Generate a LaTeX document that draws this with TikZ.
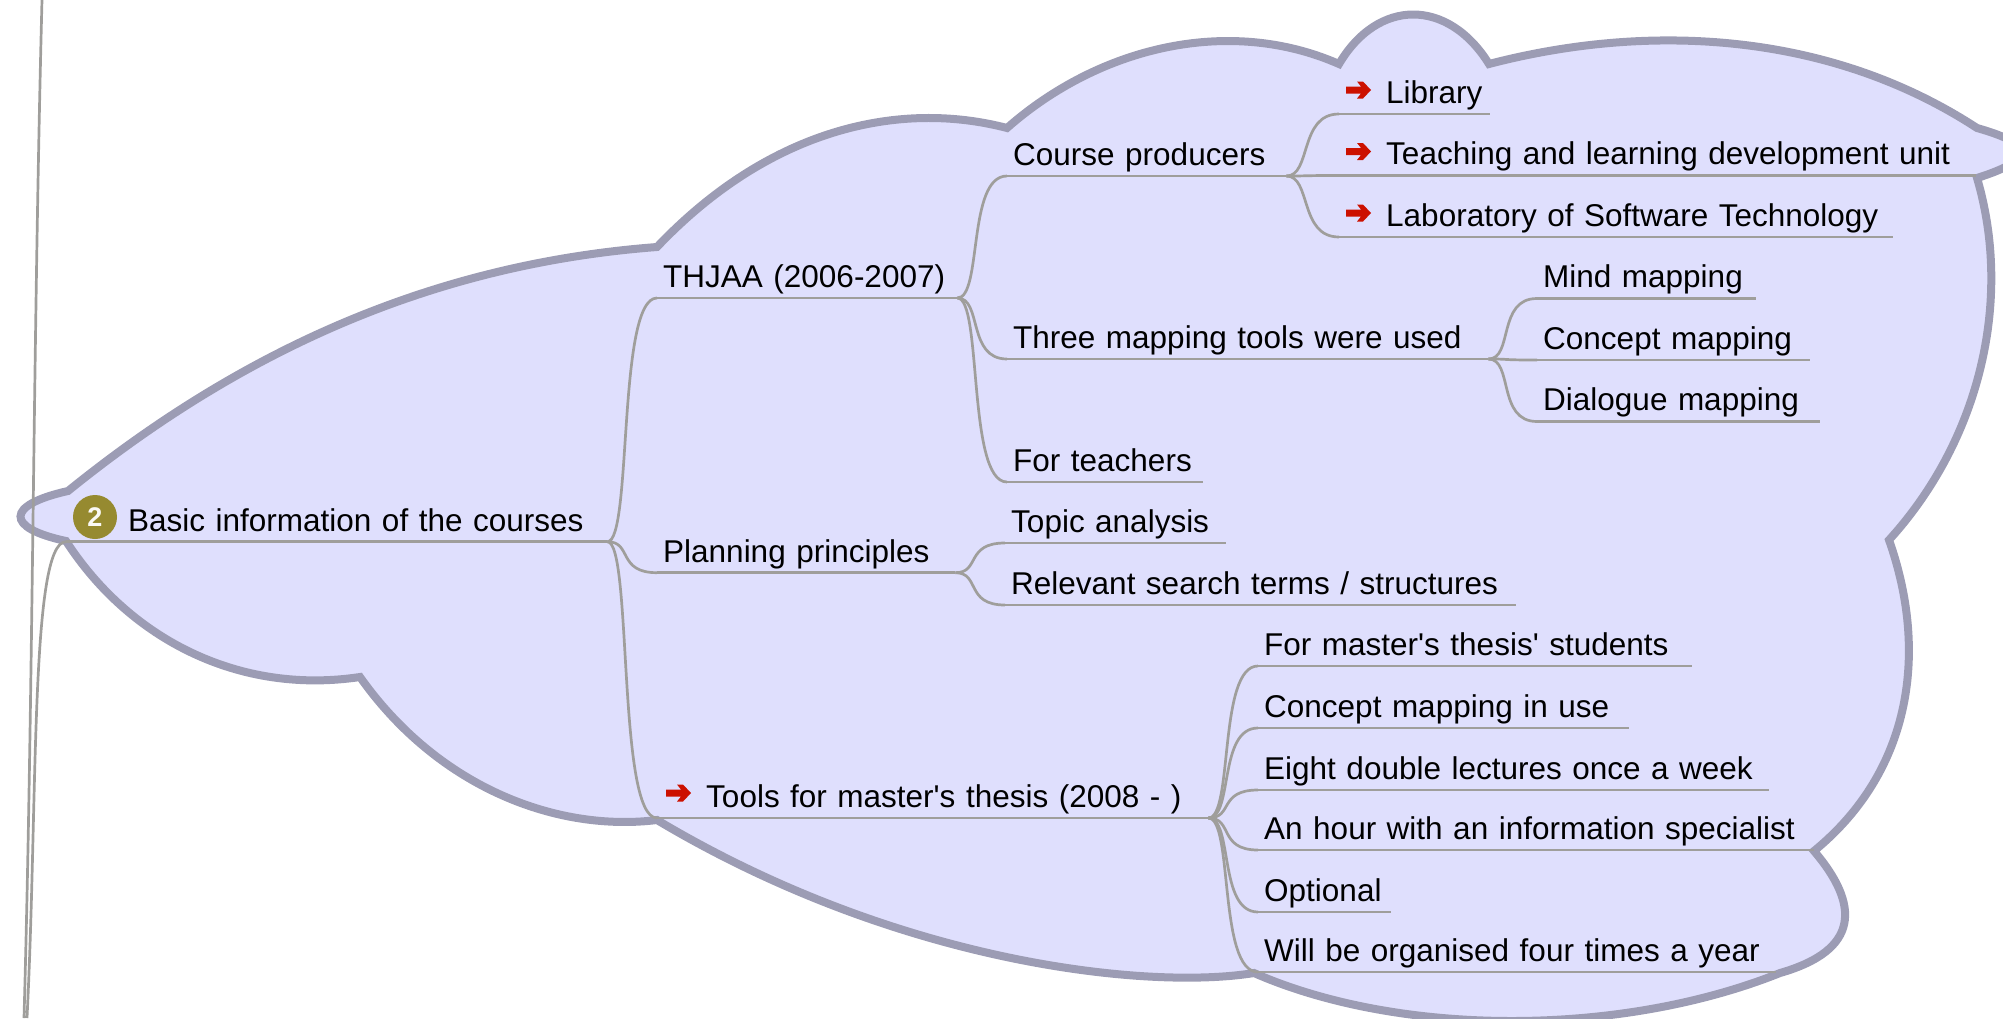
\documentclass[tikz,border=0pt]{standalone}
\usepackage{fontspec}
\setmainfont{Liberation Sans}
\usetikzlibrary{calc,positioning}
\definecolor{cloudfill}{HTML}{DFDFFD}
\definecolor{clouddraw}{HTML}{9C9CB4}
\definecolor{linegray}{HTML}{9F9E9B}
\definecolor{iconred}{HTML}{CC1100}
\definecolor{iconolive}{HTML}{968A30}
\tikzset{
  cloud line/.style={
    draw=clouddraw,
    fill=cloudfill,
    line width=8pt,
    line join=miter
  },
  branch line/.style={
    draw=linegray,
    line width=2.7pt
  },
  branch/.style={
    out=0,
    in=180,
    out distance=25pt,
    in distance=40pt
  },
  indent/.style={
    execute at begin node=\hspace{#1pt}
  },
  topic/.style={
    anchor=south west,
    align=left,
    text width={#1pt-12pt},
    inner xsep=6pt,
    inner ysep=5.5pt,
    text height=23pt,
    text depth=5pt,
    font=\fontsize{31.5}{37}\selectfont,
    append after command={
      (\tikzlastnode.south west) edge[branch line] (\tikzlastnode.south east)
    }
  },
  badge/.style={
    circle,
    fill=iconolive,
    minimum size=44pt,
    inner sep=0pt,
    text=white!95!iconolive,
    font=\fontsize{27}{27}\selectfont\bfseries
  },
  red arrow/.pic={
    \fill[iconred] (0,-3.5) -- (15,-3.5) -- (11,-8.5) -- (17,-8.5) -- (25,0)
      -- (17,8.5) -- (11,8.5) -- (15,3.5) -- (0,3.5) -- cycle;
  }
}
\begin{document}
\begin{tikzpicture}[x=1pt,y=-1pt]
 \useasboundingbox (0,0) rectangle (2003,1018);
 \clip (0,0) rectangle (2003,1018);
 \draw[cloud line] (68,491)
  .. controls (230,360) and (420,265) .. (657,247)
  .. controls (770,128) and (900,100) .. (1007,128)
  .. controls (1100,46) and (1230,16) .. (1339,64)
  .. controls (1378,-2) and (1448,-2) .. (1489,64)
  .. controls (1650,22) and (1830,32) .. (1977,128)
  .. controls (2030,143) and (2040,158) .. (1977,178)
  .. controls (2013,300) and (1980,440) .. (1889,540)
  .. controls (1928,650) and (1913,770) .. (1814,851)
  .. controls (1860,905) and (1860,950) .. (1780,973)
  .. controls (1620,1037) and (1400,1037) .. (1254,973)
  .. controls (1150,990) and (900,965) .. (657,820)
  .. controls (560,832) and (440,790) .. (360,677)
  .. controls (240,695) and (130,640) .. (66,541)
  .. controls (5,528) and (5,505) .. (68,491) -- cycle;

 \node[topic=541] (root) at (66,541.7) [indent=56] {Basic information of the courses};
 \node[badge] (root_badge) at (95,517) {2};

 \node[topic=300] (thjaa) at (657,298) {THJAA (2006-2007)};
 \node[topic=298] (planning) at (657,572.7) {Planning principles};
 \node[topic=551] (tools) at (657,818) [indent=43] {Tools for master\textquotesingle s thesis (2008 - )};

 \node[topic=279] (producers) at (1007,176) {Course producers};
 \node[topic=481] (mapping) at (1007,359) {Three mapping tools were used};
 \node[topic=196] (teachers) at (1007,482) {For teachers};
 \node[topic=221] (topic_analysis) at (1005,543) {Topic analysis};
 \node[topic=511] (search_terms) at (1005,605) {Relevant search terms / structures};

 \node[topic=151] (library) at (1339,114) [indent=41] {Library};
 \node[topic=637] (teaching) at (1339,175.5) [indent=41] {Teaching and learning development unit};
 \node[topic=554] (laboratory) at (1339,237) [indent=41] {Laboratory of Software Technology};

 \node[topic=219] (mind) at (1537,298.5) {Mind mapping};
 \node[topic=273] (concept) at (1537,360) {Concept mapping};
 \node[topic=283] (dialogue) at (1537,421.5) {Dialogue mapping};

 \node[topic=434] (masters) at (1258,666) {For master\textquotesingle s thesis\textquotesingle{} students};
 \node[topic=371] (in_use) at (1258,728) {Concept mapping in use};
 \node[topic=511] (lectures) at (1258,790) {Eight double lectures once a week};
 \node[topic=556] (specialist) at (1258,850) {An hour with an information specialist};
 \node[topic=133] (optional) at (1258,912) {Optional};
 \node[topic=518] (four_times) at (1258,972) {Will be organised four times a year};

 \pic at ($(tools.south west)+(9,-25)$) {red arrow};
 \pic at ($(library.south west)+(7,-24)$) {red arrow};
 \pic at ($(teaching.south west)+(7,-24)$) {red arrow};
 \pic at ($(laboratory.south west)+(7,-24)$) {red arrow};

 \coordinate (left_top) at (42,0);
 \coordinate (left_bottom) at (24,1018);
 \coordinate (root_parent) at (27,1018);

 \path[branch line]
  (left_top) .. controls (33,350) and (33,700) .. (left_bottom)
  (root.south west) .. controls (30,541.7) and (38,800) .. (root_parent)
  (root.south east) edge[branch] (thjaa.south west)
  (root.south east) edge[branch] (planning.south west)
  (root.south east) edge[branch] (tools.south west)
  (thjaa.south east) edge[branch] (producers.south west)
  (thjaa.south east) edge[branch] (mapping.south west)
  (thjaa.south east) edge[branch] (teachers.south west)
  (planning.south east) edge[branch] (topic_analysis.south west)
  (planning.south east) edge[branch] (search_terms.south west)
  (tools.south east) edge[branch] (masters.south west)
  (tools.south east) edge[branch] (in_use.south west)
  (tools.south east) edge[branch] (lectures.south west)
  (tools.south east) edge[branch] (specialist.south west)
  (tools.south east) edge[branch] (optional.south west)
  (tools.south east) edge[branch] (four_times.south west)
  (producers.south east) edge[branch] (library.south west)
  (producers.south east) edge[branch] (teaching.south west)
  (producers.south east) edge[branch] (laboratory.south west)
  (mapping.south east) edge[branch] (mind.south west)
  (mapping.south east) edge[branch] (concept.south west)
  (mapping.south east) edge[branch] (dialogue.south west);
\end{tikzpicture}
\end{document}
